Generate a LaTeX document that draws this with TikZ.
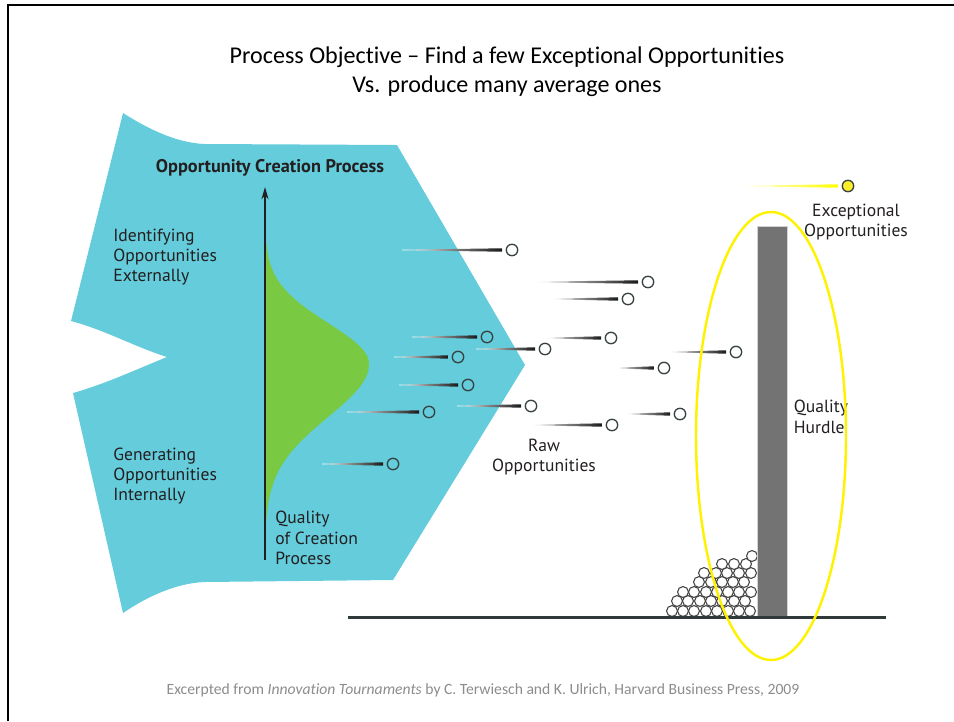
\documentclass[tikz,border=0pt]{standalone}
\usepackage{fontspec}
\setmainfont{Carlito}[Ligatures=NoCommon]
\newfontfamily\figfont{PT Sans}
\usetikzlibrary{arrows.meta, positioning, calc}
\definecolor{cFunnel}{RGB}{100,204,219}
\definecolor{cBell}{RGB}{122,201,67}
\definecolor{cHurdle}{RGB}{115,115,115}
\definecolor{cRim}{RGB}{55,65,65}
\definecolor{cInk}{RGB}{35,31,32}
\definecolor{cNote}{RGB}{140,140,140}
\definecolor{cGold}{RGB}{252,238,45}
\tikzset{
	lbl/.style={font=\figfont\fontsize{10}{11.6}\selectfont, text=cInk, align=left, inner sep=0pt},
	ball/.style={circle, draw=cRim, line width=0.75pt, minimum size=6.5pt, inner sep=0pt},
	pileball/.style={circle, draw=black!75, fill=white, line width=0.6pt, minimum size=6.2pt, inner sep=0pt},
	axisarrow/.style={-{Stealth[length=7pt, width=4pt]}, line width=0.8pt, cInk},
}
% tapered tail behind a ball: [colour]{ball}{length}
\newcommand{\streak}[3][black!90]{%
	\colorlet{cTail}{#1}%
	\shade[left color=white, right color=cTail, middle color=cTail!55] ($(#2.west)+(-3.5,-1.7)$) -- ($(#2.west)+(-3.5-#3,-0.3)$)
		-- ($(#2.west)+(-3.5-#3,0.3)$) -- ($(#2.west)+(-3.5,1.7)$) -- cycle;}

\begin{document}
\begin{tikzpicture}[x=0.02cm, y=-0.02cm,
			title/.style={font=\fontsize{13.7}{16.4}\selectfont, align=center, inner sep=0pt},
			note/.style={font=\fontsize{8.9}{11}\selectfont, text=cNote, inner sep=0pt}]
	\useasboundingbox (0,0) rectangle (954,721);
	\draw[line width=1.15pt] (8,721) -- (8,5) -- (954,5);

	\node[title] (head) at (507,71.5) {Process Objective -- Find a few Exceptional Opportunities\\Vs. produce many average ones};

	% funnel
	\fill[cFunnel] (123,113) .. controls (145,127) and (175,143) .. (205,144) -- (397,145) -- (525,365) -- (393,580) -- (205,582)
		.. controls (175,583) and (145,598) .. (123,613) -- (73,393) .. controls (105,384) and (135,370) .. (167,357)
		.. controls (135,347) and (105,330) .. (71,321) -- cycle;

	% quality distribution
	\fill[cBell] (265,222) -- plot[domain=222:364, samples=60] ({265+104*exp(-((\x-364)/41)^2/2)}, \x)
		-- plot[domain=364:522, samples=60] ({265+104*exp(-((\x-364)/53)^2/2)}, \x) -- (265,522) -- cycle;
	\coordinate (axbot) at (265,560);
	\coordinate (axtop) at (265,187);
	\draw[axisarrow] (axbot) -- (axtop);

	\node[lbl, font=\figfont\bfseries\fontsize{10.4}{11.6}\selectfont] (ocp) at (270,168) {Opportunity Creation Process};
	\node[lbl, anchor=west] (ext) at (113,257) {Identifying\\Opportunities\\Externally};
	\node[lbl, anchor=west] (int) at (113,476) {Generating\\Opportunities\\Internally};
	\node[lbl, anchor=west] (qual) at (275,538) {Quality\\of Creation\\Process};

	% raw opportunities
	\foreach \n/\x/\y/\l in {1/512/250/100, 2/648/282/102, 3/628/299/66, 4/487/337/65, 5/545/349/59,
			6/611/338/55, 7/458/357/54, 8/468/385/59, 9/429/412/72, 10/531/406/64,
			11/612/425/70, 12/664/368/38, 13/680/414/44, 14/736/352/57, 15/393/464/61} {
		\node[ball] (o\n) at (\x,\y) {};
		\streak{o\n}{\l}
	}
	\node[lbl, align=center] (raw) at (544,457) {Raw\\Opportunities};

	% pile in front of the hurdle
	\foreach \y/\xs in {611/{672,683,694,706,717,728,739,750}, 601/{677,688,700,711,722,734,745},
			592/{683,694,706,717,728,739,751}, 582/{699,711,722,733,744}, 573/{704,716,727,739,751},
			564/{722,734,746}, 556/{752}} {
		\foreach \x in \xs
			\node[pileball] (p\x-\y) at (\x,\y) {};
	}

	% hurdle and ground
	\fill[cHurdle, draw=gray!35, line width=0.3pt] (757,226) rectangle (787,617);
	\coordinate (gl) at (348,617);
	\coordinate (gr) at (886,617);
	\draw[line width=1.7pt, cRim!90!black] (gl) -- (gr);
	\node[lbl] (hurdle) at (821,417) {Quality\\Hurdle};
	\draw[yellow, line width=1.4pt] (771,436) ellipse [x radius=75, y radius=224];

	% the one that clears it
	\node[ball, fill=cGold] (top) at (848,186) {};
	\streak[yellow]{top}{98}
	\node[lbl, align=center] (exc) at (856,222) {Exceptional\\Opportunities};

	\node[note] (src) at (483,690) {Excerpted from \textit{Innovation Tournaments} by C. Terwiesch and K. Ulrich, Harvard Business Press, 2009};
\end{tikzpicture}
\end{document}
